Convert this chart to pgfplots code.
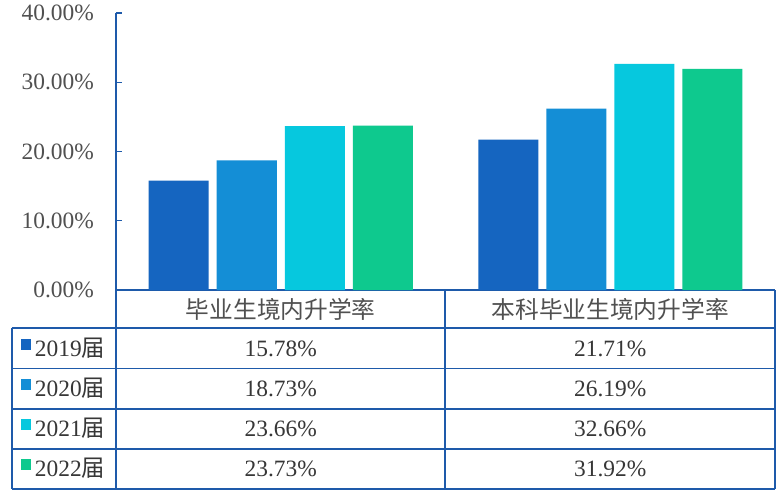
\documentclass[border=0pt]{standalone}
\usepackage{pgfplots}
\usepackage{pgfplotstable}
\pgfplotsset{compat=1.18}
\usepackage{fontspec}
\setmainfont{Liberation Serif}
\newfontfamily\cjk{Noto Sans CJK SC}
\definecolor{cA}{RGB}{21,101,192}
\definecolor{cB}{RGB}{20,142,214}
\definecolor{cC}{RGB}{6,200,222}
\definecolor{cD}{RGB}{14,201,142}
\definecolor{lineblue}{RGB}{30,90,170}
\definecolor{ticktext}{RGB}{80,80,80}
\definecolor{celltext}{RGB}{55,55,55}
\pgfplotstableread{
x y19 y20 y21 y22
0 15.78 18.73 23.66 23.73
1 21.71 26.19 32.66 31.92
}\datatable
\begin{document}
\begin{tikzpicture}
\useasboundingbox[fill=white] (-116bp,-206bp) rectangle (664bp,290bp);
\begin{axis}[
  scale only axis, width=659bp, height=277bp,
  xmin=-0.5, xmax=1.5, ymin=0, ymax=40,
  axis x line=bottom, axis y line=left,
  axis line style={draw=lineblue, line width=1.6bp, -},
  xtick={0,1}, xticklabels={毕业生境内升学率, 本科毕业生境内升学率},
  xtick style={draw=none},
  xticklabel style={font=\cjk\fontsize{23.8}{24}\selectfont, text=ticktext, anchor=base, inner sep=0pt, yshift=-28.5bp},
  ytick={0,10,20,30,40},
  ytick style={draw=lineblue, line width=1.2bp},
  tick align=inside, major tick length=6bp,
  /pgf/number format/assume math mode=true,
  yticklabel={\pgfmathprintnumber[fixed,fixed zerofill,precision=2]{\tick}\%},
  yticklabel style={font=\fontsize{23.5}{24}\selectfont, text=ticktext, anchor=east, inner sep=0pt, xshift=-22bp},
  clip=false,
  legend style={at={(axis description cs:0,0)}, anchor=north west, xshift=-95bp, yshift=-38.5bp, draw=none, fill=none, inner sep=0pt, outer sep=0pt, row sep=0pt, column sep=4bp, font=\fontsize{23.5}{24}\selectfont, text=celltext, nodes={inner sep=0pt, text height=27.5bp, text depth=12.5bp}},
  legend cell align=left,
]
\addplot[ybar, bar width=60bp, bar shift=-102bp, fill=cA, draw=none, forget plot] table[x=x, y=y19] {\datatable};
\addplot[ybar, bar width=60bp, bar shift=-34bp, fill=cB, draw=none, forget plot] table[x=x, y=y20] {\datatable};
\addplot[ybar, bar width=60bp, bar shift=34bp, fill=cC, draw=none, forget plot] table[x=x, y=y21] {\datatable};
\addplot[ybar, bar width=60bp, bar shift=102bp, fill=cD, draw=none, forget plot] table[x=x, y=y22] {\datatable};
\addlegendimage{legend image code/.code={\fill[cA] (0bp,-0.5bp) rectangle (9.5bp,9bp);}}
\addlegendentry{2019{\cjk 届}}
\addlegendimage{legend image code/.code={\fill[cB] (0bp,-0.5bp) rectangle (9.5bp,9bp);}}
\addlegendentry{2020{\cjk 届}}
\addlegendimage{legend image code/.code={\fill[cC] (0bp,-0.5bp) rectangle (9.5bp,9bp);}}
\addlegendentry{2021{\cjk 届}}
\addlegendimage{legend image code/.code={\fill[cD] (0bp,-0.5bp) rectangle (9.5bp,9bp);}}
\addlegendentry{2022{\cjk 届}}
\end{axis}
\begin{scope}[line width=1.6bp, draw=lineblue]
\draw (-104bp,-38bp) -- (659bp,-38bp);
\foreach \y in {-78.5,-118.75,-159,-199} \draw (-104bp,\y bp) -- (659bp,\y bp);
\draw (-104bp,-38bp) -- (-104bp,-199bp);
\draw (0bp,0bp) -- (0bp,-199bp);
\draw (329bp,0bp) -- (329bp,-199bp);
\draw (659bp,0bp) -- (659bp,-199bp);
\end{scope}
\begin{scope}[every node/.style={anchor=base, inner sep=0pt, text=celltext, font=\fontsize{23.5}{24}\selectfont}]
\foreach \v/\y in {15.78/-66, 18.73/-106.5, 23.66/-146.5, 23.73/-186.5} \node at (164.75bp,\y bp) {\v\%};
\foreach \v/\y in {21.71/-66, 26.19/-106.5, 32.66/-146.5, 31.92/-186.5} \node at (494.25bp,\y bp) {\v\%};
\end{scope}
\end{tikzpicture}
\end{document}
